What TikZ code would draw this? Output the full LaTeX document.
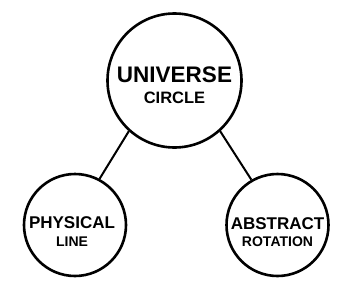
\documentclass[tikz,border=0pt]{standalone}
\usepackage{fontspec}
\setmainfont{Liberation Sans}
\usetikzlibrary{positioning}

\begin{document}
\begin{tikzpicture}[x=1pt,y=1pt,
  ring/.style={draw,circle,line width=2.6pt,inner sep=0pt},
  link/.style={line width=2pt},
  bigtitle/.style={anchor=base,inner sep=0pt,font=\fontsize{22.5}{24}\selectfont\bfseries},
  bigsub/.style={anchor=base,inner sep=0pt,font=\fontsize{16.5}{18}\selectfont\bfseries},
  title/.style={anchor=base,inner sep=0pt,font=\fontsize{17}{19}\selectfont\bfseries},
  sub/.style={anchor=base,inner sep=0pt,font=\fontsize{14}{16}\selectfont\bfseries}]
\useasboundingbox (0,0) rectangle (350,290);
% circles
\node[ring,minimum size=134pt] (universe) at (174.5,209.5) {};
\node[ring,minimum size=102pt] (physical) at (75,65) {};
\node[ring,minimum size=102pt] (abstract) at (277.5,65) {};
% texts
\node[bigtitle] (universe-t) at ([yshift=-1.5pt]universe.center) {UNIVERSE};
\node[bigsub] (universe-s) at ([yshift=-22.5pt]universe.center) {CIRCLE};
\node[title] (physical-t) at ([xshift=-3pt,yshift=-3pt]physical.center) {PHYSICAL};
\node[sub] (physical-s) at ([xshift=-3pt,yshift=-21pt]physical.center) {LINE};
\node[title] (abstract-t) at ([yshift=-4pt]abstract.center) {ABSTRACT};
\node[sub] (abstract-s) at ([yshift=-21pt]abstract.center) {ROTATION};
% links
\draw[link] (universe.228) -- (physical.62);
\draw[link] (universe.-48) -- (abstract.120);
\end{tikzpicture}
\end{document}
